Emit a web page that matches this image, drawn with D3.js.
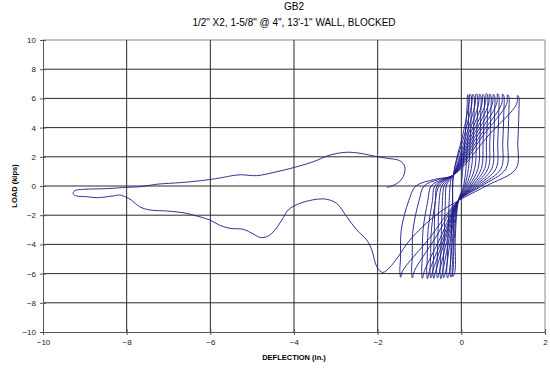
<!DOCTYPE html>
<html>
<head>
<meta charset="utf-8">
<script src="https://cdnjs.cloudflare.com/ajax/libs/d3/7.8.5/d3.min.js"></script>
<style>
  html, body { margin: 0; padding: 0; background: #ffffff; }
  svg { display: block; font-family: "Liberation Sans", Arial, sans-serif; }
</style>
</head>
<body>
<svg id="chart" width="550" height="368"></svg>
<script>
// Chart text
const titleLines = ["GB2", "1/2\" X2, 1-5/8\" @ 4\", 13'-1\" WALL, BLOCKED"];
const xLabel = "DEFLECTION (in.)";
const yLabel = "LOAD (kips)";
const xTicks = [-10, -8, -6, -4, -2, 0, 2];
const yTicks = [-10, -8, -6, -4, -2, 0, 2, 4, 6, 8, 10];

// Cyclic portion of the test: [deflection (in.), load (kips)]
const cyclicRun = [
  [0, 0], [0.03, 1.0], [0.07, 2.5], [0.11, 4.2], [0.14, 5.6], [0.15, 6.25], [0.175, 6.13],
  [0.175, 5.0], [0.15, 3.0], [0.11, 1.2], [0.052, 0], [-0.07, -1.0], [-0.145, -3.6], [-0.15, -5.8], [-0.20, -6.20], [-0.22, -5.75],
  [-0.205, -5.0], [-0.19, -3.0], [-0.19, 0.75], [0.035, 3.5], [0.18, 5.6], [0.205, 6.30], [0.235, 6.18],
  [0.235, 5.0], [0.21, 3.0], [0.17, 1.2], [0.079, 0], [-0.07, -1.0], [-0.17, -3.6], [-0.20, -5.8], [-0.25, -6.25], [-0.27, -5.8],
  [-0.255, -5.0], [-0.235, -3.0], [-0.21, -1.0], [-0.19, 0.75], [0.074, 3.5], [0.25, 5.6], [0.275, 6.28], [0.305, 6.16],
  [0.305, 5.0], [0.28, 3.0], [0.24, 1.2], [0.11, 0], [-0.07, -1.0], [-0.21, -3.6], [-0.28, -5.8], [-0.33, -6.30], [-0.35, -5.85],
  [-0.335, -5.0], [-0.315, -3.0], [-0.29, -1.0], [-0.27, 0], [-0.246, 0.45], [-0.19, 0.75], [0.118, 3.5], [0.33, 5.6], [0.355, 6.32], [0.385, 6.20],
  [0.385, 5.0], [0.36, 3.0], [0.32, 1.2], [0.147, 0], [-0.07, -1.0], [-0.255, -3.6], [-0.37, -5.8], [-0.42, -6.28], [-0.44, -5.83],
  [-0.425, -5.0], [-0.405, -3.0], [-0.38, -1.0], [-0.36, 0], [-0.278, 0.45], [-0.19, 0.75], [0.162, 3.5], [0.41, 5.6], [0.435, 6.30], [0.465, 6.18],
  [0.465, 5.0], [0.44, 3.0], [0.40, 1.2], [0.183, 0], [-0.07, -1.0], [-0.29, -3.6], [-0.44, -5.8], [-0.49, -6.35], [-0.51, -5.9],
  [-0.495, -5.0], [-0.475, -3.0], [-0.45, -1.0], [-0.414, 0], [-0.302, 0.45], [-0.19, 0.75], [0.206, 3.5], [0.49, 5.6], [0.515, 6.27], [0.545, 6.15],
  [0.545, 5.0], [0.52, 3.0], [0.48, 1.2], [0.219, 0], [-0.07, -1.0], [-0.33, -3.6], [-0.52, -5.8], [-0.57, -6.30], [-0.59, -5.85],
  [-0.575, -5.0], [-0.555, -3.0], [-0.53, -1.0], [-0.47, 0], [-0.33, 0.45], [-0.19, 0.75], [0.25, 3.5], [0.57, 5.6], [0.595, 6.33], [0.625, 6.21],
  [0.625, 5.0], [0.60, 3.0], [0.56, 1.2], [0.255, 0], [-0.07, -1.0], [-0.375, -3.6], [-0.61, -5.8], [-0.66, -6.33], [-0.68, -5.88],
  [-0.665, -5.0], [-0.645, -3.0], [-0.62, -1.0], [-0.533, 0], [-0.362, 0.45], [-0.19, 0.75], [0.294, 3.5], [0.65, 5.6], [0.675, 6.30], [0.705, 6.18],
  [0.705, 5.0], [0.68, 3.0], [0.64, 1.2], [0.29, 0], [-0.07, -1.0], [-0.41, -3.6], [-0.68, -5.8], [-0.73, -6.30], [-0.75, -5.85],
  [-0.735, -5.0], [-0.715, -3.0], [-0.62, -1.0], [-0.582, 0], [-0.386, 0.45], [-0.19, 0.75], [0.344, 3.5], [0.74, 5.6], [0.765, 6.28], [0.795, 6.16],
  [0.795, 5.0], [0.77, 3.0], [0.73, 1.2], [0.33, 0], [-0.07, -1.0], [-0.45, -3.6], [-0.76, -5.8], [-0.81, -6.35], [-0.83, -5.9],
  [-0.815, -5.0], [-0.795, -3.0], [-0.69, -1.0], [-0.638, 0], [-0.414, 0.45], [-0.19, 0.75], [0.399, 3.5], [0.84, 5.6], [0.865, 6.32], [0.895, 6.20],
  [0.895, 5.0], [0.87, 3.0], [0.83, 1.2], [0.376, 0], [-0.07, -1.0], [-0.51, -3.6], [-0.88, -5.8], [-0.93, -6.32], [-0.95, -5.87],
  [-0.935, -5.0], [-0.915, -3.0], [-0.80, -1.0], [-0.722, 0], [-0.456, 0.45], [-0.19, 0.75], [0.465, 3.5], [0.96, 5.6], [0.985, 6.30], [1.015, 6.18],
  [1.015, 5.0], [0.99, 3.0], [0.95, 1.2], [0.43, 0], [-0.07, -1.0], [-0.63, -3.6], [-1.12, -5.8], [-1.17, -6.30], [-1.19, -5.85],
  [-1.175, -5.0], [-1.155, -3.0], [-1.01, -1.0], [-0.89, 0], [-0.54, 0.45], [-0.19, 0.75], [0.53, 3.5], [1.08, 5.6], [1.105, 6.25], [1.135, 6.13],
  [1.135, 5.0], [1.11, 3.0], [1.07, 1.2], [0.484, 0], [-0.07, -1.0], [-0.77, -3.6], [-1.40, -5.8], [-1.45, -6.25], [-1.47, -5.8],
  [-1.455, -5.0], [-1.435, -3.0], [-1.256, -1.0], [-1.086, 0], [-0.638, 0.45], [-0.19, 0.75], [0.66, 3.5], [1.32, 5.6], [1.345, 6.20], [1.375, 6.08],
  [1.375, 5.0], [1.35, 3.0], [1.31, 1.2], [0.59, 0], [-0.07, -1.0]
];

// Final monotonic push to large negative deflection and return
const failureRun = [
  [-0.07, -1.0], [-0.59, -1.95], [-1.23, -3.7], [-1.5, -4.8], [-1.72, -5.6], [-1.88, -5.92],
  [-2.02, -5.53], [-2.14, -4.38], [-2.26, -3.70], [-2.50, -3.01], [-2.74, -2.10], [-2.98, -1.19],
  [-3.22, -0.91], [-3.46, -0.91], [-3.86, -1.19], [-4.14, -1.64], [-4.29, -2.33], [-4.49, -3.13],
  [-4.65, -3.47], [-4.81, -3.52], [-4.97, -3.29], [-5.21, -2.97], [-5.53, -2.90], [-5.77, -2.70],
  [-6.01, -2.33], [-6.33, -2.05], [-6.65, -1.83], [-7.05, -1.71], [-7.45, -1.64], [-7.69, -1.42],
  [-7.89, -0.96], [-8.01, -0.77], [-8.17, -0.62], [-8.32, -0.68], [-8.72, -0.80], [-8.96, -0.73],
  [-9.20, -0.68], [-9.28, -0.52], [-9.24, -0.32], [-9.04, -0.23], [-8.48, -0.18], [-7.99, -0.09],
  [-7.68, -0.05], [-7.28, 0.12], [-6.72, 0.23], [-6.24, 0.36], [-5.77, 0.55], [-5.53, 0.68],
  [-5.29, 0.77], [-4.89, 0.71], [-4.41, 0.98], [-3.98, 1.28], [-3.54, 1.66], [-3.14, 2.12],
  [-2.74, 2.31], [-2.42, 2.24], [-2.02, 2.01], [-1.78, 1.90], [-1.47, 1.73], [-1.35, 1.32],
  [-1.39, 0.64], [-1.51, 0.23], [-1.66, 0.0], [-1.78, -0.09]
];

const svg = d3.select("#chart");
const plot = { left: 43, right: 545, top: 40, bottom: 332 };

const x = d3.scaleLinear().domain([-10, 2]).range([plot.left, plot.right]);
const y = d3.scaleLinear().domain([-10, 10]).range([plot.bottom, plot.top]);

// Gridlines
svg.append("g")
  .selectAll("line")
  .data(yTicks.filter(v => v > -10))
  .join("line")
  .attr("x1", plot.left).attr("x2", plot.right)
  .attr("y1", d => y(d)).attr("y2", d => y(d))
  .attr("stroke", d => d === 10 ? "#8c8c8c" : "#2a2a2a")
  .attr("stroke-width", 1);

svg.append("g")
  .selectAll("line")
  .data(xTicks.filter(v => v > -10))
  .join("line")
  .attr("x1", d => x(d)).attr("x2", d => x(d))
  .attr("y1", plot.top).attr("y2", plot.bottom)
  .attr("stroke", d => d === 2 ? "#8c8c8c" : "#2a2a2a")
  .attr("stroke-width", 1);

// Axes with crossing tick marks
const xAxis = d3.axisBottom(x).tickValues(xTicks).tickSize(0).tickPadding(7);
const yAxis = d3.axisLeft(y).tickValues(yTicks).tickSize(0).tickPadding(7);

const gx = svg.append("g").attr("transform", `translate(0,${plot.bottom})`).call(xAxis);
const gy = svg.append("g").attr("transform", `translate(${plot.left},0)`).call(yAxis);

[gx, gy].forEach(g => {
  g.select(".domain").attr("stroke", "#555").attr("stroke-width", 1);
  g.selectAll("text").attr("font-family", "Liberation Sans, Arial, sans-serif")
    .attr("font-size", 8).attr("fill", "#222");
});

gx.selectAll(".tick").append("line").attr("y1", -3).attr("y2", 3).attr("stroke", "#555");
gy.selectAll(".tick").append("line").attr("x1", -3).attr("x2", 3).attr("stroke", "#555");

// Load–deflection trace
const line = d3.line()
  .x(d => x(d[0]))
  .y(d => y(d[1]))
  .curve(d3.curveCatmullRom.alpha(0.5));

svg.append("path")
  .datum(cyclicRun.concat(failureRun.slice(1)))
  .attr("d", line)
  .attr("fill", "none")
  .attr("stroke", "#1c1c8a")
  .attr("stroke-width", 0.9);

// Titles
svg.append("text")
  .attr("x", (plot.left + plot.right) / 2).attr("y", 10)
  .attr("text-anchor", "middle").attr("font-size", 10).attr("fill", "#000")
  .text(titleLines[0]);
svg.append("text")
  .attr("x", (plot.left + plot.right) / 2).attr("y", 26)
  .attr("text-anchor", "middle").attr("font-size", 10).attr("fill", "#000")
  .text(titleLines[1]);

svg.append("text")
  .attr("x", (plot.left + plot.right) / 2).attr("y", 360)
  .attr("text-anchor", "middle").attr("font-size", 7.5).attr("font-weight", "bold")
  .attr("fill", "#000")
  .text(xLabel);

svg.append("text")
  .attr("transform", `translate(17,${y(0)}) rotate(-90)`)
  .attr("text-anchor", "middle").attr("font-size", 7.5).attr("font-weight", "bold")
  .attr("fill", "#000")
  .text(yLabel);
</script>
</body>
</html>
